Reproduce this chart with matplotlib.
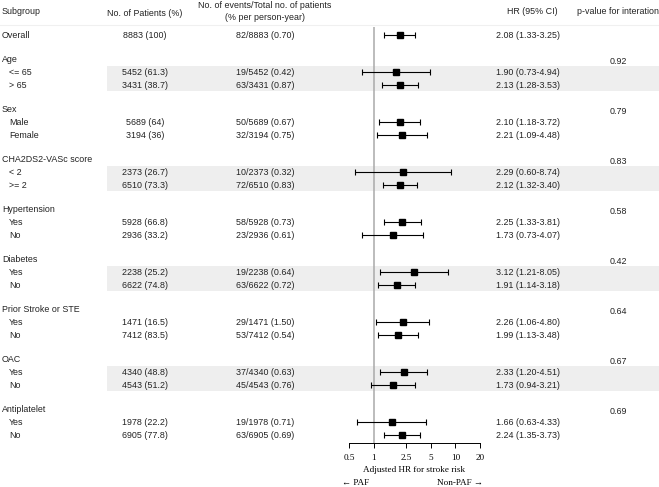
import matplotlib
matplotlib.use("Agg")
import matplotlib.pyplot as plt
from matplotlib.patches import Rectangle

# ---- dados ----
grupos = ["Age", "Sex", "CHA2DS2-VASc score", "Hypertension", "Diabetes",
          "Prior Stroke or STE", "OAC", "Antiplatelet"]
subgrupos = [["<= 65", "> 65"], ["Male", "Female"], ["< 2", ">= 2"], ["Yes", "No"],
             ["Yes", "No"], ["Yes", "No"], ["Yes", "No"], ["Yes", "No"]]
pacientes = ["8883 (100)",
             "5452 (61.3)", "3431 (38.7)", "5689 (64)", "3194 (36)",
             "2373 (26.7)", "6510 (73.3)", "5928 (66.8)", "2936 (33.2)",
             "2238 (25.2)", "6622 (74.8)", "1471 (16.5)", "7412 (83.5)",
             "4340 (48.8)", "4543 (51.2)", "1978 (22.2)", "6905 (77.8)"]
eventos = ["82/8883 (0.70)",
           "19/5452 (0.42)", "63/3431 (0.87)", "50/5689 (0.67)", "32/3194 (0.75)",
           "10/2373 (0.32)", "72/6510 (0.83)", "58/5928 (0.73)", "23/2936 (0.61)",
           "19/2238 (0.64)", "63/6622 (0.72)", "29/1471 (1.50)", "53/7412 (0.54)",
           "37/4340 (0.63)", "45/4543 (0.76)", "19/1978 (0.71)", "63/6905 (0.69)"]
hr = [2.08, 1.90, 2.13, 2.10, 2.21, 2.29, 2.12, 2.25, 1.73,
      3.12, 1.91, 2.26, 1.99, 2.33, 1.73, 1.66, 2.24]
hr_lo = [1.33, 0.73, 1.28, 1.18, 1.09, 0.60, 1.32, 1.33, 0.73,
         1.21, 1.14, 1.06, 1.13, 1.20, 0.94, 0.63, 1.35]
hr_hi = [3.25, 4.94, 3.53, 3.72, 4.48, 8.74, 3.40, 3.81, 4.07,
         8.05, 3.18, 4.80, 3.48, 4.51, 3.21, 4.33, 3.73]
p_inter = ["0.92", "0.79", "0.83", "0.58", "0.42", "0.64", "0.67", "0.69"]
grupos_sombreados = ["Age", "CHA2DS2-VASc score", "Diabetes", "OAC"]
ticks_x = [0.5, 1, 2.5, 5, 10, 20]
tick_labels = ["0.5", "1", "2.5", "5", "10", "20"]

# ---- layout (pixels) ----
W, H = 659, 487
y0, passo = 35, 12.5
fs = 6.4
fs_serif = 6.6
sans = ["Liberation Sans", "DejaVu Sans"]
serif = ["Liberation Serif", "DejaVu Serif"]
cinza = "#eeeeee"

fig = plt.figure(figsize=(W / 100, H / 100), dpi=100)
bg = fig.add_axes([0, 0, 1, 1])
bg.set_xlim(0, W)
bg.set_ylim(H, 0)
bg.axis("off")

def txt(x, y, s, ha="left", **kw):
    bg.text(x, y, s, ha=ha, va="center", fontsize=fs, family=sans, color="#222222", **kw)

# cabecalho
txt(2, 12, "Subgroup")
txt(145, 13, "No. of Patients (%)", ha="center")
txt(265, 6, "No. of events/Total no. of patients", ha="center")
txt(265, 17, "(% per person-year)", ha="center")
txt(532, 12, "HR (95% CI)", ha="center")
txt(618, 12, "p-value for interation", ha="center")
bg.plot([0, W], [25, 25], color="#f0f0f0", lw=0.8)

# linhas da tabela
ys, idx = [], 0
txt(2, y0, "Overall")
txt(145, y0, pacientes[0], ha="center")
txt(265, y0, eventos[0], ha="center")
txt(528, y0, f"{hr[0]:.2f} ({hr_lo[0]:.2f}-{hr_hi[0]:.2f})", ha="center")
ys.append(y0)
linha = 2
for g, subs, p in zip(grupos, subgrupos, p_inter):
    yg = y0 + linha * passo
    txt(2, yg, g)
    txt(618, yg + 1, p, ha="center")
    if g in grupos_sombreados:
        bg.add_patch(Rectangle((107, yg + passo * 0.5), W - 107, passo * 2,
                               color=cinza, lw=0, zorder=0))
    for k, s in enumerate(subs):
        idx += 1
        y = yg + (k + 1) * passo
        txt(9, y, s)
        txt(145, y, pacientes[idx], ha="center")
        txt(265, y, eventos[idx], ha="center")
        txt(528, y, f"{hr[idx]:.2f} ({hr_lo[idx]:.2f}-{hr_hi[idx]:.2f})", ha="center")
        ys.append(y)
    linha += 4

# ---- forest plot ----
topo, base = 27, 443
ax = fig.add_axes([349 / W, (H - base) / H, 131 / W, (base - topo) / H])
ax.patch.set_alpha(0)
ax.set_xscale("log")
ax.set_xlim(0.5, 20)
ax.set_ylim(base, topo)
ax.axvline(1, color="#aaaaaa", lw=1.1, zorder=1)
err = [[h - lo for h, lo in zip(hr, hr_lo)], [hi - h for h, hi in zip(hr, hr_hi)]]
ax.errorbar(hr, ys, xerr=err, fmt="s", color="black", ms=5, elinewidth=0.8,
            capsize=2.4, capthick=0.8, zorder=3)
for s in ["top", "left", "right"]:
    ax.spines[s].set_visible(False)
ax.spines["bottom"].set_linewidth(0.7)
ax.set_yticks([])
ax.set_xticks(ticks_x)
ax.set_xticklabels(tick_labels, family=serif, fontsize=fs_serif)
ax.minorticks_off()
ax.tick_params(axis="x", length=3.5, width=0.7, pad=4.5)
ax.set_xlabel("Adjusted HR for stroke risk", family=serif, fontsize=fs_serif, labelpad=3)

bg.text(342, 483, "\u2190 PAF", ha="left", va="center", fontsize=fs_serif, family=serif)
bg.text(483, 483, "Non-PAF \u2192", ha="right", va="center", fontsize=fs_serif, family=serif)

fig.savefig("out.png", dpi=100)
